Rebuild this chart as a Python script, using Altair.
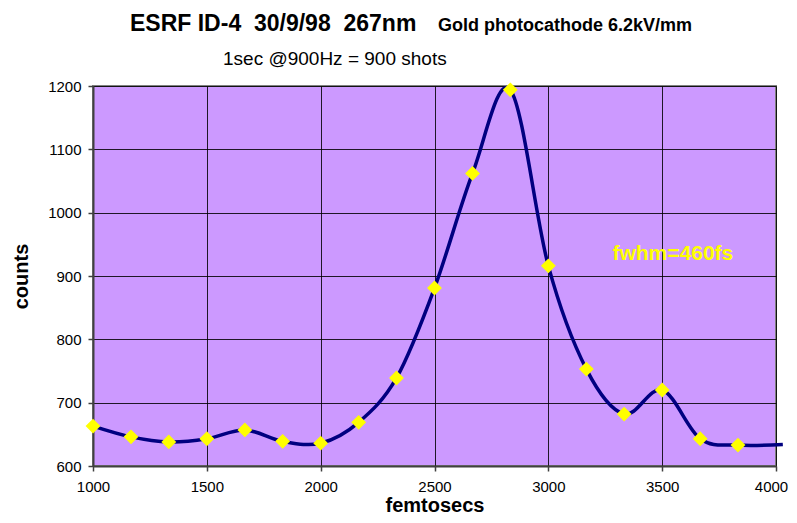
import altair as alt
import pandas as pd

# ---- data ----
femtosecs = [1000, 1167, 1333, 1500, 1667, 1833, 2000, 2167, 2333, 2500,
             2667, 2833, 3000, 3167, 3333, 3500, 3667, 3833]
counts = [663, 646, 638, 643, 657, 639, 636, 669, 739, 881,
          1062, 1194, 916, 753, 682, 720, 643, 633]
# smoothed line continues a little past the last marker
tail_femtosecs = [4030]
tail_counts = [634]

x_ticks = [1000, 1500, 2000, 2500, 3000, 3500, 4000]
y_ticks = [600, 700, 800, 900, 1000, 1100, 1200]

title_main = "ESRF ID-4 \u00a030/9/98 \u00a0267nm"
title_small = "Gold photocathode 6.2kV/mm"
subtitle = "1sec @900Hz = 900 shots"
note = "fwhm=460fs"
note_x = [3547]
note_y = [935]

FONT = "Liberation Sans"

pts = pd.DataFrame({"fs": femtosecs, "counts": counts})
line_df = pd.DataFrame({"fs": femtosecs + tail_femtosecs,
                        "counts": counts + tail_counts})

xs = alt.Scale(domain=[1000, 4000], nice=False, zero=False)
ys = alt.Scale(domain=[600, 1200], nice=False, zero=False)

x_axis = alt.Axis(values=x_ticks, title="femtosecs", format="d",
                  labelFontSize=15, labelPadding=8, tickSize=5, labelFlush=False,
                  labelOffset={"condition": {"test": "datum.value >= 4000", "value": -5},
                               "value": 0},
                  titleFontSize=20, titleFontWeight="bold",
                  titleBaseline="alphabetic", titleY=45)
y_axis = alt.Axis(values=y_ticks, title="counts", format="d",
                  labelFontSize=15, labelPadding=7, tickSize=5, labelFlush=False,
                  titleFontSize=20, titleFontWeight="bold",
                  titleBaseline="middle", titleX=-72)

line = alt.Chart(line_df).mark_line(
    interpolate="cardinal", color="#000080", strokeWidth=3.5, clip=False
).encode(
    x=alt.X("fs:Q", scale=xs, axis=x_axis),
    y=alt.Y("counts:Q", scale=ys, axis=y_axis),
)

markers = alt.Chart(pts).mark_point(
    shape="diamond", filled=True, color="#FFFF00", opacity=1, size=220
).encode(
    x=alt.X("fs:Q", scale=xs),
    y=alt.Y("counts:Q", scale=ys),
)

note_df = pd.DataFrame({"fs": note_x, "counts": note_y, "t": [note]})
note_layer = alt.Chart(note_df).mark_text(
    font=FONT, fontSize=21, fontWeight="bold", color="#FFFF00",
    align="center", baseline="middle"
).encode(
    x=alt.X("fs:Q", scale=xs),
    y=alt.Y("counts:Q", scale=ys),
    text="t:N",
)

title_df = pd.DataFrame({"a": [title_main], "b": [title_small], "c": [subtitle]})
t1 = alt.Chart(title_df).mark_text(
    font=FONT, fontSize=23, fontWeight="bold", color="black",
    align="left", baseline="alphabetic"
).encode(x=alt.value(37), y=alt.value(-55), text="a:N")
t2 = alt.Chart(title_df).mark_text(
    font=FONT, fontSize=18, fontWeight="bold", color="black",
    align="left", baseline="alphabetic"
).encode(x=alt.value(345), y=alt.value(-55), text="b:N")
t3 = alt.Chart(title_df).mark_text(
    font=FONT, fontSize=19, color="black",
    align="left", baseline="alphabetic"
).encode(x=alt.value(130), y=alt.value(-21), text="c:N")

chart = alt.layer(line, markers, note_layer, t1, t2, t3).properties(
    width=683, height=380,
    autosize=alt.AutoSizeParams(type="none"),
    padding={"left": 85, "top": 78, "right": 13, "bottom": 49},
    background="white",
).configure_view(
    fill="#CC99FF", stroke="#808080", strokeWidth=2
).configure_axis(
    labelFont=FONT, titleFont=FONT, labelColor="black", titleColor="black",
    domainColor="#404040", domainWidth=2, tickColor="#404040", tickWidth=1.5,
    grid=True, gridColor="#000000", gridOpacity=0.85, gridWidth=1,
)

chart.save("out.html", embed_options={"renderer": "svg", "actions": False})
